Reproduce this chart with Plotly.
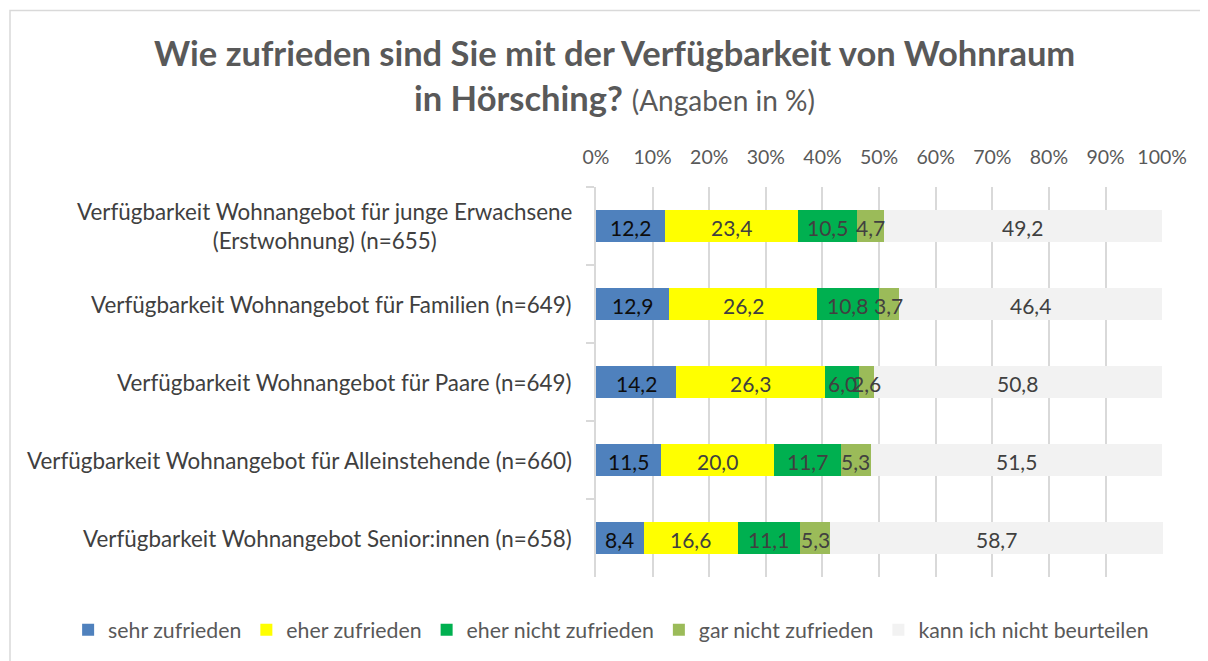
import plotly.graph_objects as go

categories = [
    "Verfügbarkeit Wohnangebot für junge Erwachsene<br>(Erstwohnung) (n=655)",
    "Verfügbarkeit Wohnangebot für Familien (n=649)",
    "Verfügbarkeit Wohnangebot für Paare (n=649)",
    "Verfügbarkeit Wohnangebot für Alleinstehende (n=660)",
    "Verfügbarkeit Wohnangebot Senior:innen (n=658)",
]
series_names = ["sehr zufrieden", "eher zufrieden", "eher nicht zufrieden",
                "gar nicht zufrieden", "kann ich nicht beurteilen"]
sehr_zufrieden = [12.2, 12.9, 14.2, 11.5, 8.4]
eher_zufrieden = [23.4, 26.2, 26.3, 20.0, 16.6]
eher_nicht_zufrieden = [10.5, 10.8, 6.0, 11.7, 11.1]
gar_nicht_zufrieden = [4.7, 3.7, 2.6, 5.3, 5.3]
kann_nicht_beurteilen = [49.2, 46.4, 50.8, 51.5, 58.7]
tick_values = [0, 10, 20, 30, 40, 50, 60, 70, 80, 90, 100]
tick_labels = ["0%", "10%", "20%", "30%", "40%", "50%", "60%", "70%", "80%", "90%", "100%"]

series_values = [sehr_zufrieden, eher_zufrieden, eher_nicht_zufrieden,
                 gar_nicht_zufrieden, kann_nicht_beurteilen]
colors = ["#4F81BD", "#FFFF00", "#00B050", "#9BBB59", "#F2F2F2"]
text_colors = ["#0d0d0d", "#404040", "#404040", "#404040", "#404040"]

FONT = "Lato"

fig = go.Figure()
annotations = []
bases = [0.0] * len(categories)
for name, vals, col, tcol in zip(series_names, series_values, colors, text_colors):
    fig.add_trace(go.Bar(
        y=categories, x=vals, name=name, orientation="h",
        marker=dict(color=col, line=dict(width=0)),
        cliponaxis=False, hoverinfo="skip",
    ))
    # data labels on top of all bars, centred in each segment (data coordinates)
    for c, b, v in zip(categories, bases, vals):
        annotations.append(dict(
            x=b + v / 2, xref="x", y=c, yref="y", xanchor="center", yanchor="middle",
            yshift=-1.5, text=f"{v:.1f}".replace(".", ","), showarrow=False,
            font=dict(family=FONT, size=21, color=tcol),
        ))
    bases = [b + v for b, v in zip(bases, vals)]

# category labels (centered multi-line) placed via y-axis data coordinates
for c in categories:
    annotations.append(dict(
        x=0, xref="paper", y=c, yref="y", xanchor="right", yanchor="middle",
        xshift=-22, text=c, showarrow=False, align="center",
        font=dict(family=FONT, size=22.4, color="#404040"),
    ))

# title
annotations.append(dict(
    x=0.0335, xref="paper", y=1.345, yref="paper", xanchor="center", yanchor="middle",
    text="<b>Wie zufrieden sind Sie mit der Verfügbarkeit von Wohnraum</b>",
    showarrow=False, font=dict(family=FONT, size=34.5, color="#595959"),
))
annotations.append(dict(
    x=0.0335, xref="paper", y=1.229, yref="paper", xanchor="center", yanchor="middle",
    text="<b>in Hörsching?</b> <span style='font-size:28px'>(Angaben in %)</span>",
    showarrow=False, font=dict(family=FONT, size=34.5, color="#595959"),
))

fig.update_layout(
    barmode="stack",
    bargap=0.6,
    width=1200, height=653,
    margin=dict(l=588, r=45, t=179, b=83),
    paper_bgcolor="white", plot_bgcolor="white",
    font=dict(family=FONT, color="#595959"),
    showlegend=True,
    legend=dict(
        orientation="h", traceorder="normal",
        x=-0.931, xanchor="left", y=-0.133, yanchor="middle",
        font=dict(family=FONT, size=21.3, color="#595959"),
        itemwidth=30, tracegroupgap=0,
    ),
    annotations=annotations,
    shapes=[
        dict(type="rect", xref="paper", yref="paper",
             x0=-1.0335, x1=1.2, y0=-0.4, y1=1.4527,
             line=dict(color="#d9d9d9", width=1.5), fillcolor="rgba(0,0,0,0)",
             layer="below"),
    ],
)

fig.update_xaxes(
    range=[0, 100.15], side="top", tickvals=tick_values, ticktext=tick_labels,
    showgrid=True, gridcolor="#d9d9d9", gridwidth=1.5,
    zeroline=False, showline=False, ticks="",
    ticklabelstandoff=18,
    tickfont=dict(family=FONT, size=19.5, color="#595959"),
)
fig.update_yaxes(
    autorange="reversed", showticklabels=False,
    showline=True, linecolor="#d9d9d9", linewidth=1.5,
    ticks="outside", tickson="boundaries", ticklen=8, tickcolor="#d9d9d9", tickwidth=1.5,
    showgrid=False,
)

fig.write_html("out.html")
